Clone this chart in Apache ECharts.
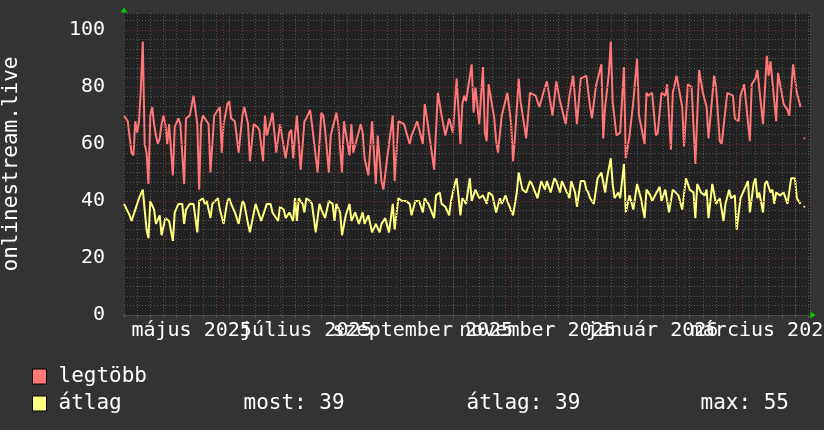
<!DOCTYPE html>
<html>
<head>
<meta charset="utf-8">
<script src="https://cdn.jsdelivr.net/npm/echarts@6/dist/echarts.min.js"></script>
<style>html,body{margin:0;padding:0;background:#333333;}#c{width:824px;height:430px;}</style>
</head>
<body>
<div id="c"></div>
<script>
// x values: days since 2025-04-09 (plot start); plot ends 2026-04-09 (day 365)
const seriesNames = ['legtöbb', 'átlag'];
const statTexts = ['most: 39', 'átlag: 39', 'max: 55'];
const axisTitle = 'onlinestream.live';

const redDays = [
  0,2,4,5,6,7,8,9,10,11,
  12,13,14,15,16,17,18,19,20,21,
  22,23,24,26,27,29,30,32,33,35,
  37,38,39,40,41,42,44,45,46,48,
  49,51,52,53,55,56,57,59,61,63,
  64,66,67,69,71,72,74,75,76,78,
  79,81,83,86,88,89,90,91,92,94,
  96,97,99,100,103,105,106,107,109,110,
  113,114,116,117,120,121,122,124,126,127,
  128,130,132,134,135,137,138,140,143,144,
  146,149,152,153,156,159,160,161,165,167,
  169,171,173,175,177,179,180,181,182,185,
  186,187,189,191,192,193,194,197,198,199,
  200,201,204,206,207,208,210,211,214,216,
  219,221,224,225,228,230,232,235,237,239,
  241,243,246,248,249,251,254,255,256,258,
  259,260,262,264,266,267,269,271,273,274,
  277,278,279,281,283,284,286,288,289,291,
  292,294,297,298,300,302,304,306,308,310,
  311,314,315,317,318,320,321,324,325,327,
  328,330,333,334,336,337,340,342,343,344,
  347,348,351,353,354,356,358,360
];
const redValues = [
  70,68,57,56,68,64,68,80,96,60,
  57,46,70,73,67,63,60,62,67,70,
  67,60,67,49,66,69,67,46,69,70,
  77,72,67,44,67,70,68,67,50,70,
  71,73,57,67,74,75,69,68,57,70,
  73,67,54,67,66,65,54,70,63,68,
  71,57,67,55,64,65,55,63,70,51,
  68,69,72,67,50,71,70,65,50,63,
  71,67,50,68,56,67,57,62,67,64,
  55,49,68,46,63,47,44,55,70,47,
  68,67,60,63,68,60,74,70,51,78,
  70,63,69,64,83,60,74,77,75,88,
  71,80,67,87,64,61,81,69,61,57,
  57,70,78,67,54,62,83,75,62,78,
  77,73,80,82,70,82,75,67,77,84,
  67,83,84,73,69,80,88,62,73,85,
  96,75,63,64,87,55,63,75,90,70,
  60,78,77,78,63,64,78,77,81,58,
  78,84,73,59,81,80,53,86,78,73,
  62,84,80,61,60,72,78,77,69,68,
  77,81,61,81,83,86,67,91,84,89,
  68,85,74,72,70,88,78,73
];
const yellowDays = [
  0,3,4,6,7,8,10,11,12,13,
  14,16,17,19,20,22,24,26,27,29,
  31,32,33,35,37,39,40,42,43,44,
  46,47,50,51,53,55,56,57,59,61,
  63,64,66,67,70,71,73,76,78,79,
  82,83,85,86,88,90,91,92,93,95,
  96,97,99,100,102,104,105,107,109,111,
  112,113,115,116,118,120,121,123,125,127,
  128,130,132,134,136,137,139,141,143,144,
  146,148,150,152,153,155,157,159,160,162,
  165,166,168,169,171,173,174,176,177,179,
  180,182,184,185,187,189,191,193,194,196,
  198,200,201,203,204,207,209,210,212,214,
  216,217,220,222,224,225,227,229,230,232,
  233,235,237,238,240,241,243,245,246,247,
  248,250,252,254,256,257,259,260,261,263,
  264,266,267,269,271,273,275,277,278,280,
  281,285,286,288,290,292,295,297,299,301,
  303,304,305,307,309,310,311,313,315,317,
  319,320,322,323,325,326,328,330,332,333,
  335,336,337,338,340,341,342,344,345,346,
  347,349,351,353,355,357,358,360
];
const yellowValues = [
  39,35,33,37,39,41,44,37,30,27,
  40,37,32,35,28,34,33,26,36,39,
  39,32,37,39,39,29,40,41,39,40,
  34,39,41,37,32,40,41,39,36,32,
  40,39,32,29,39,37,33,39,39,36,
  33,38,37,34,36,33,41,33,41,39,
  36,41,40,39,29,39,37,34,40,39,
  33,39,36,28,35,39,33,36,32,36,
  32,35,29,32,29,32,34,29,39,30,
  41,40,40,39,35,40,40,36,41,39,
  34,42,43,39,38,35,40,46,48,35,
  41,39,48,40,44,41,42,39,43,42,
  36,41,39,42,40,35,43,50,44,43,
  47,46,41,47,44,47,43,48,47,43,
  47,44,41,47,43,38,47,47,44,43,
  41,39,48,50,43,48,55,46,41,43,
  41,53,36,42,37,46,41,34,44,42,
  40,45,40,44,36,44,42,37,48,44,
  43,34,46,43,42,44,34,46,39,41,
  33,39,44,41,42,30,41,44,47,36,
  46,48,41,43,36,46,47,43,44,39,
  43,42,43,39,48,48,41,39
];
// isolated last sample after a gap
const lastDay = [362];
const lastRed = [62];
const lastYellow = [38];

// grid / axis definitions
const monthStartDays = [22,53,83,114,145,175,206,236,267,298,326,357];
const labelDays = [36,97,159,220,281,340];
const labelTexts = ['május 2025','július 2025','szeptember 2025','november 2025','január 2026','március 2026'];
const yTicks = [0,20,40,60,80,100];

const RED = '#ff7777';
const YEL = '#ffff80';
const MINOR = '#565656';
const MAJOR = '#7c2f2f';
const FONT = 'DejaVu Sans Mono';

const chart = echarts.init(document.getElementById('c'), null, {renderer: 'canvas'});

const pairs = (ds, vs) => ds.map((d, i) => [d, vs[i]]);
const XMAX = 365, YMAX = 106;

const majorLines = monthStartDays.map(d => ({xAxis: d}))
  .concat(yTicks.filter(v => v > 0).map(v => ({yAxis: v})));

const tok = (w, extra) => Object.assign({color: '#ffffff', fontFamily: FONT, fontSize: 21, lineHeight: 15}, w ? {width: w} : {}, extra || {});
const legendBase = {
  show: true, orient: 'vertical', left: 32, padding: 0,
  selectedMode: false,
  icon: 'rect', itemWidth: 14, itemHeight: 15, itemGap: 0,
  itemStyle: {borderColor: '#000000', borderWidth: 1},
  formatter: function (name) {
    if (name === seriesNames[1]) {
      return '{a|' + name + '}{b|' + statTexts[0] + '}{c|' + statTexts[1] + '}{d|' + statTexts[2] + '}';
    }
    return '{a|' + name + '}';
  },
  textStyle: {
    color: '#ffffff', fontFamily: FONT, fontSize: 21, lineHeight: 15,
    rich: {a: tok(185, {padding: [0, 0, 0, 7]}), b: tok(223), c: tok(234), d: tok(0)}
  }
};

// month labels split over two axes (alternate labels) so none gets hidden by overlap handling
const labelAxis = (parity) => {
  const vals = labelDays.filter((d, i) => i % 2 === parity);
  return {
    type: 'value', min: 0, max: XMAX, position: 'bottom',
    axisLine: {show: false}, axisTick: {show: false}, splitLine: {show: false},
    axisLabel: {
      show: true, customValues: vals, margin: 6, hideOverlap: false,
      showMinLabel: true, showMaxLabel: true,
      color: '#ffffff', fontFamily: FONT, fontSize: 20,
      formatter: function (v) {
        const i = labelDays.indexOf(Math.round(v));
        return i >= 0 ? labelTexts[i] : '';
      }
    }
  };
};

chart.setOption({
  animation: false,
  backgroundColor: '#333333',
  grid: {left: 124, right: 14, top: 13, bottom: 115, show: true, backgroundColor: '#222222', borderWidth: 0,
    containLabel: false, outerBoundsMode: 'none'},
  legend: [
    Object.assign({}, legendBase, {top: 366, data: [seriesNames[0]]}),
    Object.assign({}, legendBase, {top: 393, data: [seriesNames[1]]})
  ],
  xAxis: [
    { // weekly minor grid
      type: 'value', min: 0, max: XMAX, interval: 7, position: 'bottom',
      axisLine: {show: true, onZero: false, lineStyle: {color: '#4a4a4a', width: 1}},
      axisTick: {show: true, length: 3, inside: false, lineStyle: {color: '#555555'}},
      axisLabel: {show: false},
      splitLine: {show: true, lineStyle: {color: MINOR, type: [1, 2], width: 1}}
    },
    labelAxis(0),
    labelAxis(1),
    { // arrow at right end
      type: 'value', min: 0, max: XMAX, position: 'bottom',
      axisLine: {show: true, onZero: false, symbol: ['none', 'triangle'], symbolSize: [7, 5], symbolOffset: [0, 3],
        lineStyle: {color: '#00cc00', width: 1, type: [0, 10000]}},
      axisTick: {show: false}, axisLabel: {show: false}, splitLine: {show: false}
    }
  ],
  yAxis: [
    { // minor grid
      type: 'value', min: 0, max: YMAX, interval: 10 / 3, position: 'left',
      axisLine: {show: false}, axisTick: {show: false}, axisLabel: {show: false},
      splitLine: {show: true, lineStyle: {color: MINOR, type: [1, 2], width: 1}}
    },
    { // labels + title
      type: 'value', min: 0, max: YMAX, interval: 20, position: 'left',
      name: axisTitle, nameLocation: 'middle', nameRotate: 90, nameGap: 102,
      nameTextStyle: {color: '#ffffff', fontFamily: FONT, fontSize: 21},
      axisLine: {show: false}, axisTick: {show: false}, splitLine: {show: false},
      axisLabel: {show: true, showMaxLabel: false, margin: 19, color: '#ffffff', fontFamily: FONT, fontSize: 20,
        formatter: function (v) { return yTicks.indexOf(Math.round(v)) >= 0 ? String(Math.round(v)) : ''; }}
    },
    { // arrow at top
      type: 'value', min: 0, max: YMAX, position: 'left',
      axisLine: {show: true, onZero: false, symbol: ['none', 'triangle'], symbolSize: [7, 5], symbolOffset: [0, 3],
        lineStyle: {color: '#00cc00', width: 1, type: [0, 10000]}},
      axisTick: {show: false}, axisLabel: {show: false}, splitLine: {show: false}
    }
  ],
  series: [
    {
      name: seriesNames[0], type: 'line', xAxisIndex: 0, yAxisIndex: 0,
      data: pairs(redDays, redValues), showSymbol: false, symbol: 'none',
      color: RED, lineStyle: {color: RED, width: 2}, z: 3,
      markLine: {
        silent: true, symbol: ['none', 'none'], label: {show: false}, animation: false,
        lineStyle: {color: MAJOR, type: [1, 2], width: 1}, emphasis: {disabled: true},
        data: majorLines
      }
    },
    {
      name: seriesNames[1], type: 'line', xAxisIndex: 0, yAxisIndex: 0,
      data: pairs(yellowDays, yellowValues), showSymbol: false, symbol: 'none',
      color: YEL, lineStyle: {color: YEL, width: 2}, z: 4
    },
    {
      name: 'redLast', type: 'scatter', xAxisIndex: 0, yAxisIndex: 0,
      data: pairs(lastDay, lastRed), symbol: 'rect', symbolSize: 2,
      itemStyle: {color: RED}, z: 3
    },
    {
      name: 'yellowLast', type: 'scatter', xAxisIndex: 0, yAxisIndex: 0,
      data: pairs(lastDay, lastYellow), symbol: 'rect', symbolSize: 2,
      itemStyle: {color: YEL}, z: 4
    }
  ]
});
</script>
</body>
</html>
